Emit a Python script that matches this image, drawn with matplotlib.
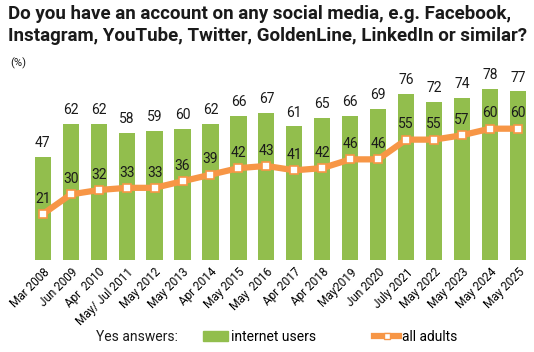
import numpy as np
from matplotlib import pyplot as plt
from matplotlib.lines import Line2D
from matplotlib.patches import Patch

labels = ['Mar 2008', 'Jun 2009', 'Apr  2010', 'May/ Jul 2011', 'May 2012', 'May 2013',
          'Apr 2014', 'May 2015', 'May  2016', 'Apr 2017', 'Apr 2018', 'May2019',
          'Jun 2020', 'July 2021', 'May 2022', 'May 2023', 'May 2024', 'May 2025']
internet_users = [47, 62, 62, 58, 59, 60, 62, 66, 67, 61, 65, 66, 69, 76, 72, 74, 78, 77]
all_adults = [21, 30, 32, 33, 33, 36, 39, 42, 43, 41, 42, 46, 46, 55, 55, 57, 60, 60]

green = '#92BE4D'
orange = '#F79646'

plt.rcParams['font.family'] = ['Roboto', 'DejaVu Sans']

fig = plt.figure(figsize=(5.34, 3.52), dpi=100)
ax = fig.add_axes([0.054, 0.261, 0.942, 0.529])
ind = np.arange(len(labels))

ax.bar(ind, internet_users, width=0.58, color=green)
ax.plot(ind, all_adults, color=orange, lw=4.5, marker='s', ms=6,
        mfc='white', mec=orange, mew=1.2, solid_joinstyle='round')

for i, v in enumerate(internet_users):
    ax.annotate(str(v), (i, v), xytext=(0, 5), textcoords='offset points',
                ha='center', va='bottom', fontsize=10, color='#1a1a1a')
for i, v in enumerate(all_adults):
    ax.annotate(str(v), (i, v), xytext=(0, 6), textcoords='offset points',
                ha='center', va='bottom', fontsize=10, color='#1a1a1a')

ax.set_xlim(-0.5, len(labels) - 0.5)
ax.set_ylim(0, 85)
ax.set_yticks([])
ax.set_xticks(ind)
ax.set_xticklabels(labels, rotation=45, ha='right', rotation_mode='anchor', fontsize=8.5)
ax.tick_params(axis='x', length=0, pad=4)
for s in ax.spines.values():
    s.set_visible(False)

fig.text(0.015, 0.985, 'Do you have an account on any social media, e.g. Facebook,\n'
         'Instagram, YouTube, Twitter, GoldenLine, LinkedIn or similar?',
         ha='left', va='top', fontsize=13.5, fontweight='bold', color='#1a1a1a', linespacing=1.3)
fig.text(0.02, 0.82, '(%)', ha='left', va='center', fontsize=8, color='#1a1a1a')

fig.text(0.18, 0.042, 'Yes answers:', ha='left', va='center', fontsize=10, color='#1a1a1a')
handles = [Patch(color=green, label='internet users'),
           Line2D([0], [0], color=orange, lw=4.5, marker='s', ms=5, mfc='white', mec=orange,
                  label='all adults')]
fig.legend(handles=handles, loc='center left', bbox_to_anchor=(0.38, 0.042), ncol=2,
           frameon=False, fontsize=10, handlelength=1.8, handletextpad=0.2,
           columnspacing=4.2, borderaxespad=0, borderpad=0)

fig.savefig('out.png', dpi=100)
